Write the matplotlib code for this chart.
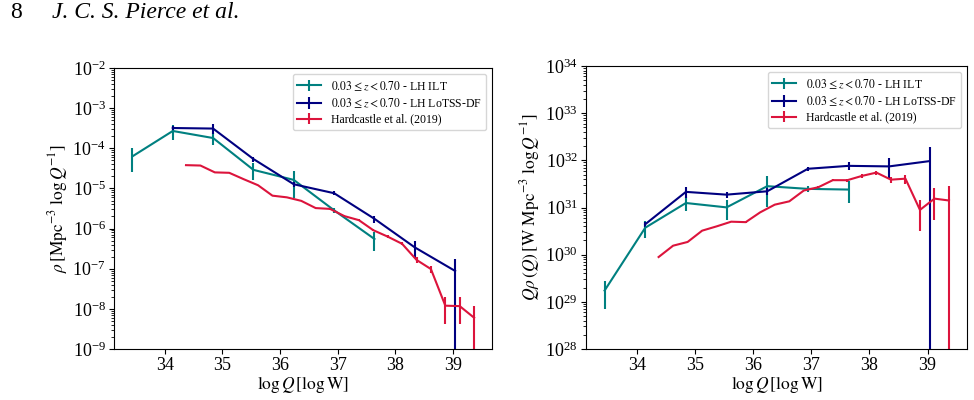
import numpy as np
import matplotlib
matplotlib.use("Agg")
import matplotlib.pyplot as plt

plt.rcParams['font.family'] = ['Liberation Serif', 'DejaVu Serif']
plt.rcParams['mathtext.fontset'] = 'stix'

# ---------------- data ----------------
ilt_logq = [33.44, 34.14, 34.84, 35.54, 36.24, 36.94, 37.64]
ilt_rho = [6.3e-5, 2.7e-4, 1.8e-4, 2.9e-5, 1.63e-5, 2.85e-6, 5.5e-7]
ilt_err = [3.7e-5, 1.05e-4, 6.0e-5, 1.3e-5, 1.05e-5, 4.5e-7, 2.7e-7]

lotss_logq = [34.14, 34.84, 35.54, 36.24, 36.94, 37.64, 38.34, 39.04]
lotss_rho = [3.2e-4, 3.1e-4, 5.4e-5, 1.27e-5, 7.6e-6, 1.75e-6, 3.4e-7, 8.8e-8]
lotss_err = [4.5e-5, 8.5e-5, 7.5e-6, 2.0e-6, 8.0e-7, 3.5e-7, 1.6e-7, 8.8e-8]

h19_logq = [34.37, 34.62, 34.87, 35.12, 35.37, 35.62, 35.87, 36.12, 36.37, 36.62,
            36.87, 37.12, 37.37, 37.62, 37.87, 38.12, 38.37, 38.62, 38.87, 39.12, 39.37]
h19_rho = [3.80e-5, 3.72e-5, 2.51e-5, 2.45e-5, 1.70e-5, 1.20e-5, 6.6e-6, 6.0e-6, 4.9e-6, 3.24e-6,
           3.09e-6, 2.04e-6, 1.62e-6, 9.1e-7, 6.3e-7, 4.17e-7, 1.66e-7, 9.8e-8, 1.20e-8, 1.17e-8, 6.0e-9]
h19_err = [7.6e-7, 7.4e-7, 5.0e-7, 4.9e-7, 3.4e-7, 2.4e-7, 1.3e-7, 1.8e-7, 1.5e-7, 9.7e-8,
           1.2e-7, 1.0e-7, 9.7e-8, 6.4e-8, 5.0e-8, 3.8e-8, 2.5e-8, 2.2e-8, 7.8e-9, 7.6e-9, 6.0e-9]

labels = [r'$0.03 \leq z < 0.70$ - LH ILT',
          r'$0.03 \leq z < 0.70$ - LH LoTSS-DF',
          'Hardcastle et al. (2019)']
colors = ['teal', 'navy', 'crimson']

series = [(ilt_logq, ilt_rho, ilt_err),
          (lotss_logq, lotss_rho, lotss_err),
          (h19_logq, h19_rho, h19_err)]

# ---------------- figure ----------------
fig = plt.figure(figsize=(9.74, 4.0), dpi=100)
ax1 = fig.add_axes([114/974, 51/400, 378/974, 281/400])
ax2 = fig.add_axes([586/974, 51/400, 381/974, 283/400])

for (lq, rho, err), lab, c in zip(series, labels, colors):
    lq = np.array(lq); rho = np.array(rho); err = np.array(err)
    ax1.errorbar(lq, rho, yerr=err, color=c, label=lab, lw=1.5)
    scale = 10.0 ** lq
    ax2.errorbar(lq, rho * scale, yerr=err * scale, color=c, label=lab, lw=1.5)

for ax in (ax1, ax2):
    ax.set_yscale('log')
    ax.set_xlim(33.12, 39.68)
    ax.set_xticks([34, 35, 36, 37, 38, 39])
    ax.tick_params(labelsize=13, pad=2.5)
    ax.set_xlabel(r'$\log Q\,[\log \mathrm{W}]$', fontsize=12.5, labelpad=0)
    leg = ax.legend(loc='upper right', fontsize=8.5, labelspacing=0.3,
                    borderaxespad=0.5)

ax1.set_ylim(1e-9, 1e-2)
ax2.set_ylim(1e28, 1e34)
ax1.set_ylabel(r'$\rho\,[\mathrm{Mpc}^{-3}\ \log Q^{-1}]$', fontsize=12.5, labelpad=2)
ax2.set_ylabel(r'$Q\rho\,(Q)\,[\mathrm{W\ Mpc}^{-3}\ \log Q^{-1}]$', fontsize=12.5, labelpad=2)

fig.text(10/974, 1 - 13/400, '8', fontsize=17, va='center', ha='left')
fig.text(52/974, 1 - 13/400, 'J. C. S. Pierce et al.', fontsize=17, style='italic',
         va='center', ha='left')

fig.savefig('out.png', dpi=100)
